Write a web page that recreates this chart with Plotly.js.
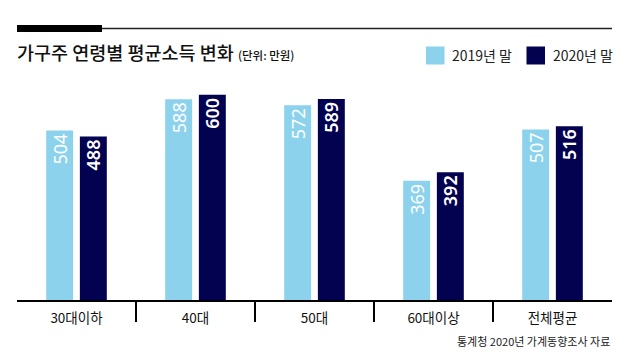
<!DOCTYPE html>
<html>
<head>
<meta charset="utf-8">
<script src="https://cdn.plot.ly/plotly-3.0.1.min.js"></script>
<style>
  html, body { margin: 0; padding: 0; background: #ffffff; }
  #chart { width: 639px; height: 359px; }
</style>
</head>
<body>
<div id="chart"></div>
<script>
// ---- data ----
const categories = ['30대이하', '40대', '50대', '60대이상', '전체평균'];
const values2019 = [504, 588, 572, 369, 507];
const values2020 = [488, 600, 589, 392, 516];
const seriesNames = ['2019년 말', '2020년 말'];
const titleText = '가구주 연령별 평균소득 변화';
const unitText = '(단위: 만원)';
const sourceText = '통계청 2020년 가계동향조사 자료';

// ---- styles ----
const LIGHT = '#8dd2ed';
const DARK = '#020250';
const W = 639, H = 359;
const M = { l: 17, r: 27, t: 60, b: 59 };
const plotW = W - M.l - M.r, plotH = H - M.t - M.b;
const px2x = px => (px - M.l) / plotW;
const px2y = py => (H - M.b - py) / plotH;
const KR = 'Noto Sans CJK KR, Noto Sans, sans-serif';

const barText = (vals, weight) => ({
  text: vals.map(String),
  textposition: 'inside',
  insidetextanchor: 'end',
  textangle: -90,
  constraintext: 'none',
  textfont: { family: 'Noto Sans, sans-serif', size: 18, color: '#ffffff', weight: weight }
});

const traces = [
  Object.assign({
    type: 'bar', x: categories, y: values2019, name: seriesNames[0],
    marker: { color: LIGHT }, hoverinfo: 'skip'
  }, barText(values2019, 400)),
  Object.assign({
    type: 'bar', x: categories, y: values2020, name: seriesNames[1],
    marker: { color: DARK }, hoverinfo: 'skip'
  }, barText(values2020, 600))
];

const shapes = [
  // top rule
  { type: 'line', xref: 'paper', yref: 'paper', x0: 0, x1: 1, y0: px2y(28.5), y1: px2y(28.5),
    line: { color: '#222', width: 1.5 } },
  { type: 'rect', xref: 'paper', yref: 'paper', x0: 0, x1: px2x(102), y0: px2y(32), y1: px2y(25),
    fillcolor: '#000', line: { width: 0 } },
  // legend swatches
  { type: 'rect', xref: 'paper', yref: 'paper', x0: px2x(426), x1: px2x(444.5), y0: px2y(64.5), y1: px2y(46.5),
    fillcolor: LIGHT, line: { width: 0 } },
  { type: 'rect', xref: 'paper', yref: 'paper', x0: px2x(526.5), x1: px2x(545), y0: px2y(64.5), y1: px2y(46.5),
    fillcolor: DARK, line: { width: 0 } }
];
// category separators
for (let i = 0; i < categories.length - 1; i++) {
  shapes.push({ type: 'line', xref: 'x', yref: 'paper', x0: i + 0.5, x1: i + 0.5, y0: 0, y1: px2y(322),
    line: { color: '#000', width: 2 } });
}

const annotations = [
  { xref: 'paper', yref: 'paper', x: px2x(450), y: px2y(55.5), xanchor: 'left', yanchor: 'middle',
    text: seriesNames[0], showarrow: false, font: { family: KR, size: 14, color: '#222' } },
  { xref: 'paper', yref: 'paper', x: px2x(550.5), y: px2y(55.5), xanchor: 'left', yanchor: 'middle',
    text: seriesNames[1], showarrow: false, font: { family: KR, size: 14, color: '#222' } },
  { xref: 'paper', yref: 'paper', x: 1, y: px2y(341), xanchor: 'right', yanchor: 'middle',
    text: sourceText, showarrow: false, font: { family: KR, size: 11, color: '#222' } }
];

const layout = {
  width: W, height: H, autosize: false,
  margin: { l: M.l, r: M.r, t: M.t, b: M.b, pad: 0 },
  paper_bgcolor: '#ffffff', plot_bgcolor: '#ffffff',
  showlegend: false,
  barmode: 'group', bargap: 0.434, bargroupgap: 0.2,
  title: {
    text: titleText + ' <span style="font-size:11.5px">' + unitText + '</span>',
    xref: 'container', yref: 'container',
    x: 17 / W, xanchor: 'left', y: 1 - 54 / H, yanchor: 'middle',
    font: { family: KR, size: 18.5, color: '#111', weight: 500 }
  },
  xaxis: {
    type: 'category', range: [-0.5, categories.length - 0.5],
    showline: true, linecolor: '#000', linewidth: 2,
    ticks: 'outside', ticklen: 5, tickcolor: 'rgba(0,0,0,0)',
    showgrid: false, zeroline: false, fixedrange: true,
    tickfont: { family: KR, size: 13.5, color: '#111', weight: 400 }
  },
  yaxis: {
    range: [49, 49 + plotH / 0.3723],
    visible: false, showgrid: false, zeroline: false, fixedrange: true
  },
  shapes: shapes,
  annotations: annotations
};

Plotly.newPlot('chart', traces, layout, { staticPlot: true, displayModeBar: false });
</script>
</body>
</html>
